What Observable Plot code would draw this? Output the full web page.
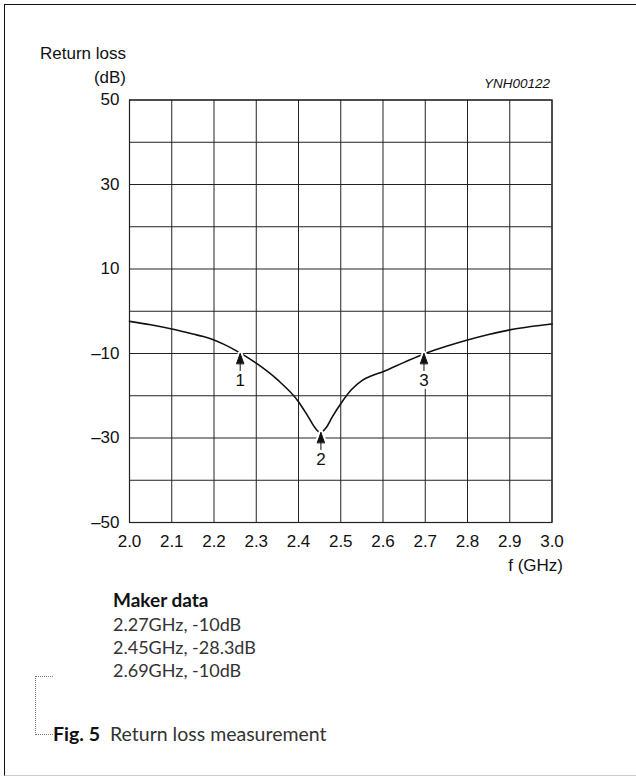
<!DOCTYPE html>
<html>
<head>
<meta charset="utf-8">
<script src="https://cdn.jsdelivr.net/npm/d3@7"></script>
<script src="https://cdn.jsdelivr.net/npm/@observablehq/plot@0.6"></script>
<style>
  html, body { margin: 0; padding: 0; background: white; }
  #wrap { position: relative; width: 636px; height: 781px; overflow: hidden; }
  #chart { position: absolute; left: 0; top: 0; }
  .t { position: absolute; white-space: nowrap; }
  .ax { font-family: "Liberation Sans", Arial, sans-serif; font-size: 17px; color: #111; line-height: 20px; }
  .gs { font-family: Lato, "Open Sans", sans-serif; }
</style>
</head>
<body>
<div id="wrap">
  <div id="chart"></div>
  <div class="t ax" style="right:510px; top:44px;">Return loss</div>
  <div class="t ax" style="right:510px; top:68px;">(dB)</div>
  <div class="t ax" style="right:86px; top:76px; font-size:13.5px; line-height:16px; font-style:italic;">YNH00122</div>
  <div class="t ax" style="right:73px; top:556px;">f (GHz)</div>
  <div class="t gs" style="left:113px; top:589px; font-size:19px; line-height:22px; font-weight:700; color:#111;">Maker data</div>
  <div id="maker" class="t gs" style="left:113px; top:613px; font-size:18px; line-height:23px; color:#333;"></div>
  <div class="t" style="left:35px; top:676px; width:17px; height:57px; border-left:1px dotted #777; border-top:1px dotted #777; border-bottom:1px dotted #777;"></div>
  <div class="t gs" style="left:53px; top:722px; font-size:19.5px; line-height:24px; color:#111;"><b>Fig. 5</b><span style="margin-left:10px; color:#333;">Return loss measurement</span></div>
  <div class="t" style="left:4px; top:4px; width:640px; height:770px; border-top:1.5px solid #111; border-left:1.5px solid #111; border-bottom:1px solid #ccc;"></div>
</div>
<script>
// Curve: frequency (GHz) and return loss (dB)
const freq = [2.00, 2.05, 2.10, 2.15, 2.175, 2.20, 2.225, 2.25, 2.30, 2.35, 2.40, 2.425, 2.44, 2.452, 2.465, 2.48, 2.50, 2.525, 2.55, 2.575, 2.60, 2.65, 2.70, 2.75, 2.80, 2.85, 2.90, 2.95, 3.00];
const returnLoss = [-2.4, -3.2, -4.2, -5.4, -6.0, -6.8, -7.9, -9.2, -12.3, -16.2, -21.4, -25.3, -27.7, -28.7, -27.6, -25.0, -21.9, -18.6, -16.4, -15.2, -14.3, -12.1, -10.0, -8.3, -6.8, -5.5, -4.4, -3.6, -3.0];

// Markers
const markerF = [2.262, 2.453, 2.697];
const markerDB = [-10, -28.7, -10];
const markerLabel = ["1", "2", "3"];

// Maker data text
const makerLines = ["2.27GHz, -10dB", "2.45GHz, -28.3dB", "2.69GHz, -10dB"];

// Axes
const xTicks = [2.0, 2.1, 2.2, 2.3, 2.4, 2.5, 2.6, 2.7, 2.8, 2.9, 3.0];
const yGrid = [-50, -40, -30, -20, -10, 0, 10, 20, 30, 40, 50];
const yTickLabels = [50, 30, 10, -10, -30, -50];

const curve = freq.map((f, i) => ({f, db: returnLoss[i]}));
const markers = markerF.map((f, i) => ({f, db: markerDB[i], label: markerLabel[i]}));

document.getElementById("maker").innerHTML = makerLines.map(s => `<div>${s}</div>`).join("");

const arrowShape = {
  draw(context, l) {
    context.moveTo(0, 0);
    context.lineTo(0, -l);
    context.moveTo(-3.6, -l + 10);
    context.lineTo(0, -l);
    context.lineTo(3.6, -l + 10);
    context.closePath();
  }
};

const fmtY = d => d < 0 ? "\u2013" + Math.abs(d) : String(d);

const chart = Plot.plot({
  width: 636,
  height: 781,
  marginLeft: 129,
  marginRight: 84.5,
  marginTop: 99.5,
  marginBottom: 259,
  style: {fontFamily: "Liberation Sans, Arial, sans-serif", fontSize: "17px", color: "#111", background: "transparent"},
  x: {domain: [2, 3]},
  y: {domain: [-50, 50]},
  marks: [
    Plot.gridX(xTicks, {stroke: "#222", strokeOpacity: 1, strokeWidth: 1}),
    Plot.gridY(yGrid, {stroke: "#222", strokeOpacity: 1, strokeWidth: 1}),
    Plot.frame({stroke: "#222", strokeWidth: 1.2}),
    Plot.axisX(xTicks, {tickSize: 0, tickPadding: 12, tickFormat: d => d.toFixed(1), label: null, fontSize: 17}),
    Plot.axisY(yTickLabels, {tickSize: 0, tickPadding: 10, tickFormat: fmtY, label: null, fontSize: 17}),
    Plot.line(curve, {x: "f", y: "db", stroke: "#111", strokeWidth: 1.6, curve: "monotone-x"}),
    Plot.vector(markers, {x: "f", y: "db", length: 17, anchor: "end", shape: arrowShape, stroke: "white", strokeWidth: 5, fill: "white"}),
    Plot.vector(markers, {x: "f", y: "db", length: 17, anchor: "end", shape: arrowShape, stroke: "#111", strokeWidth: 1, fill: "#111"}),
    Plot.text(markers, {x: "f", y: "db", text: "label", dy: 27, fontSize: 17, fill: "#111", stroke: "white", strokeWidth: 6, paintOrder: "stroke"})
  ]
});
document.getElementById("chart").appendChild(chart);
</script>
</body>
</html>
